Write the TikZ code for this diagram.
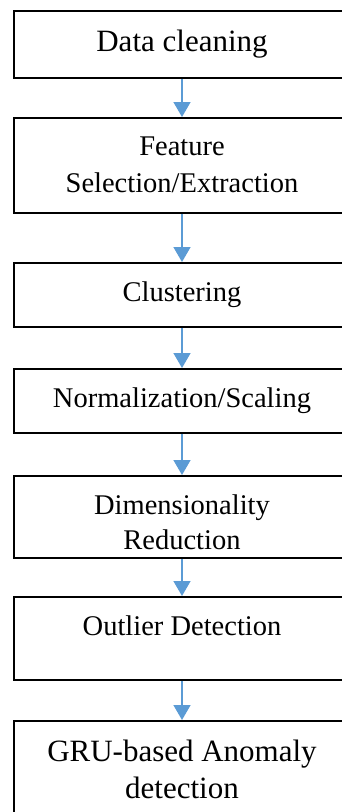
\documentclass[tikz,border=0pt]{standalone}
\usepackage{fontspec}
\setmainfont{Liberation Serif}
\usetikzlibrary{arrows.meta}

\definecolor{flowblue}{HTML}{5B9BD5}

\tikzset{
  stage/.style={draw, line width=1.8pt, minimum width=336pt, inner xsep=0pt, inner ysep=0pt,
    align=center, anchor=north, text height=39pt, font=\fontsize{28.5}{37}\selectfont},
  bigstage/.style={stage, text height=40.5pt, font=\fontsize{31}{37.5}\selectfont},
  flow/.style={draw=flowblue, line width=1.5pt, -{Triangle[width=17pt,length=15pt]}}
}

\begin{document}
\begin{tikzpicture}[x=1pt,y=-1pt]
\useasboundingbox (0,0) rectangle (342,812);
\clip (0,0) rectangle (342,812);
% pipeline stages, top to bottom (two-line boxes sit on their last line)
\node[bigstage, text depth=26.5pt] (clean) at (182,10) {Data cleaning};
\node[stage, text height=75pt, text depth=20pt] (feat) at (182,117) {Feature\\Selection/Extraction};
\node[stage, text depth=25pt] (clust) at (182,262) {Clustering};
\node[stage, text depth=25pt] (norm) at (182,368) {Normalization/Scaling};
\node[stage, text height=74pt, text depth=8pt, font=\fontsize{28.5}{35}\selectfont] (dimred) at (182,475) {Dimensionality\\Reduction};
\node[stage, text depth=44pt] (outlier) at (182,596) {Outlier Detection};
\node[bigstage, text height=78pt, text depth=27pt] (gru) at (182,720) {GRU-based Anomaly\\detection};
% arrows between stages
\foreach \src/\dst in {clean/feat,feat/clust,clust/norm,norm/dimred,dimred/outlier,outlier/gru}
  \draw[flow] (\src) -- (\dst);
\end{tikzpicture}
\end{document}
